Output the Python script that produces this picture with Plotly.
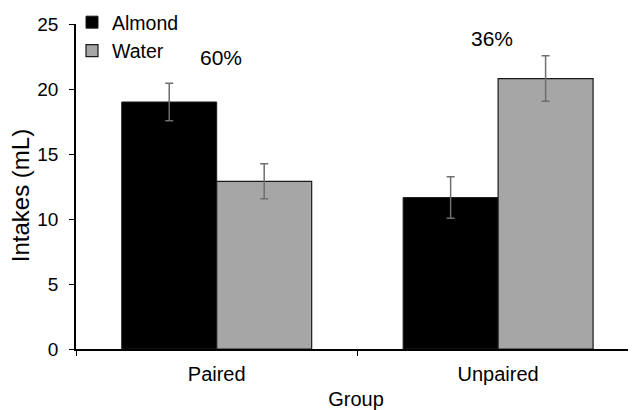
import plotly.graph_objects as go

groups = ["Paired", "Unpaired"]
almond = [19.0, 11.65]
almond_err = [1.45, 1.6]
water = [12.9, 20.8]
water_err = [1.35, 1.75]
pct_labels = ["60%", "36%"]
pct_x = [0.015, 0.98]
pct_y = [22.4, 23.9]

FONT = "Liberation Sans, Arial, sans-serif"

fig = go.Figure()
fig.add_trace(go.Bar(
    name="Almond", x=groups, y=almond,
    marker=dict(color="#000000", line=dict(color="#1a1a1a", width=1)),
    error_y=dict(type="data", array=almond_err, color="#6e6e6e", thickness=1.5, width=4),
))
fig.add_trace(go.Bar(
    name="Water", x=groups, y=water,
    marker=dict(color="#a6a6a6", line=dict(color="#1a1a1a", width=1.2)),
    error_y=dict(type="data", array=water_err, color="#6e6e6e", thickness=1.5, width=4),
))

for xv, yv, t in zip(pct_x, pct_y, pct_labels):
    fig.add_annotation(x=xv, y=yv, text=t, showarrow=False,
                       font=dict(size=21, color="#000000", family=FONT), xref="x", yref="y")

# y-axis title placed as rotated annotation
fig.add_annotation(x=-56 / 560, y=0.47, xref="paper", yref="paper", text="Intakes (mL)",
                   textangle=-90, showarrow=False, xanchor="center", yanchor="middle",
                   font=dict(size=24, color="#000000", family=FONT))

fig.update_layout(
    width=628, height=402,
    margin=dict(l=68, r=0, t=16, b=61, autoexpand=False),
    paper_bgcolor="white", plot_bgcolor="white",
    barmode="group", bargap=0.325, bargroupgap=0,
    font=dict(family=FONT, size=19, color="#000000"),
    legend=dict(x=-4 / 560, y=1 + 21 / 325, xref="paper", yref="paper",
                xanchor="left", yanchor="top",
                font=dict(size=19.5, family=FONT), bgcolor="rgba(0,0,0,0)",
                itemwidth=30, tracegroupgap=0, traceorder="normal"),
    showlegend=True,
)
fig.update_xaxes(
    range=[-0.5, 1.49], showline=True, linecolor="#000000", linewidth=1.5,
    ticks="outside", tickson="boundaries", ticklen=5, tickcolor="#000000",
    tickfont=dict(size=20, family=FONT), ticklabelstandoff=6, automargin=False,
    title=dict(text="Group", font=dict(size=20, family=FONT), standoff=24),
    showgrid=False, zeroline=False,
)
fig.update_yaxes(
    range=[0, 25], dtick=5, showline=True, linecolor="#000000", linewidth=1.5,
    ticks="outside", ticklen=5, tickcolor="#000000", automargin=False,
    tickfont=dict(size=19, family=FONT), ticklabelstandoff=7,
    showgrid=False, zeroline=False,
)

fig.write_html("out.html")
